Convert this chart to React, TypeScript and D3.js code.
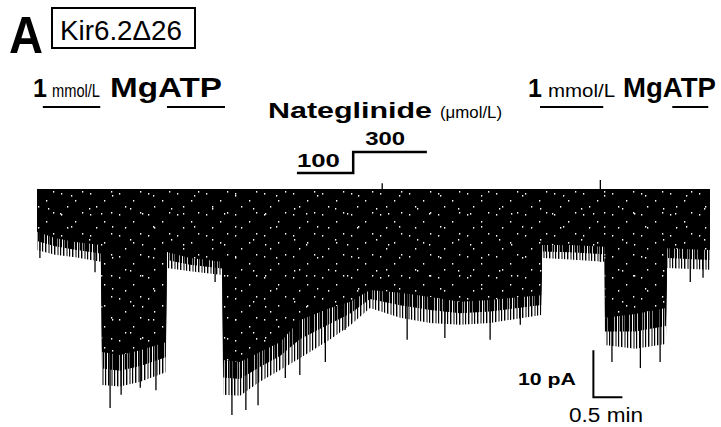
import React from "react";
import * as d3 from "d3";

// trace envelope: time (min), bottom of the solid band (pA)
const traceTime = [
  0, 0.31, 0.66, 1.1,
  1.12, 1.43, 1.78, 2.22,
  2.24, 2.64, 3.19,
  3.21, 3.5, 3.84, 4.19, 4.53, 5.05, 5.4, 5.74, 6.26, 6.78, 7.29, 7.81, 8.69,
  8.71, 9.19, 9.78,
  9.79, 10.31, 10.84,
  10.86, 11.6,
];
const denseBottom = [
  -9.1, -10.4, -11.3, -11.9,
  -34.7, -35.3, -34.3, -32.6,
  -13.4, -14.7, -15.5,
  -36.4, -36.8, -34.7, -32.6, -27.9, -25.3, -24.0, -21.5, -22.1, -23.0, -24.0, -23.6, -22.6,
  -11.9, -11.9, -12.3,
  -27.4, -26.6, -25.3,
  -12.6, -13.0,
];
// how far the bulk of the openings reach (pA)
const fringeBottom = [
  -13.0, -14.0, -14.5, -15.5,
  -41.7, -42.0, -41.0, -39.0,
  -16.8, -17.5, -18.3,
  -43.8, -44.0, -41.0, -38.5, -36.0, -32.0, -29.0, -25.3, -27.4, -28.5, -28.9, -28.5, -26.8,
  -14.7, -15.0, -15.5,
  -33.2, -34.0, -33.0,
  -16.8, -17.2,
];

// the deepest single openings: [time, pA]
const spikeTips: [number, number][] = [
  [0.05, -14.7], [1.0, -17.7], [1.26, -46.6], [1.45, -43.8], [1.78, -42.3],
  [2.05, -42.8], [3.07, -19.8], [3.36, -48.1], [3.6, -47.0], [3.81, -46.0],
  [4.28, -40.2], [4.53, -39.6], [4.97, -36.8], [5.31, -30.0], [6.38, -32.1],
  [7.03, -31.7], [7.81, -32.1], [8.33, -28.9], [8.67, -21.9], [9.71, -15.5],
  [9.91, -36.8], [10.4, -38.1], [10.74, -36.8], [11.26, -19.8], [11.48, -18.9],
];

const upSpikes: [number, number][] = [[5.95, 1.2], [9.71, 1.9]];

// application periods (min)
const atpPeriods: [number, number][] = [[0.1, 1.09], [2.24, 3.24], [8.67, 9.76], [10.95, 11.57]];
const nateSteps = [
  { conc: "100", start: 4.48, end: 5.45 },
  { conc: "300", start: 5.45, end: 6.72 },
];

// scale bar: 10 pA, 0.5 min
const scaleBar = { t: 9.59, pA: -44.3, dPA: 10, dT: 0.5 };

export default function App() {
  const W = 721, H = 427;
  const x = d3.scaleLinear().domain([0, 11.6]).range([37, 710]);
  const y = d3.scaleLinear().domain([0, -10]).range([189, 236]);

  const area = d3
    .area<number>()
    .x((_, i) => x(traceTime[i]))
    .y0(y(0))
    .y1((d) => y(d));

  const midFringe = denseBottom.map((d, i) => (d + fringeBottom[i]) / 2);

  const font = "'Liberation Sans', Arial, sans-serif";
  const T = (p: any) => (
    <text fontFamily={font} lengthAdjust="spacingAndGlyphs" {...p} />
  );

  return (
    <svg width={W} height={H} style={{ position: "absolute", left: 0, top: 0, background: "#fff" }}>
      <defs>
        <pattern id="fringeOuter" width="9" height="10" patternUnits="userSpaceOnUse">
          <rect x="0" y="0" width="1.4" height="10" fill="#000" />
          <rect x="3.5" y="0" width="1" height="10" fill="#000" />
          <rect x="6" y="0" width="1.2" height="10" fill="#000" />
        </pattern>
        <pattern id="fringeInner" width="5" height="10" patternUnits="userSpaceOnUse">
          <rect x="0" y="0" width="2" height="10" fill="#000" />
          <rect x="3" y="0" width="1.3" height="10" fill="#000" />
        </pattern>
        <pattern id="speckA" width="29" height="21" patternUnits="userSpaceOnUse">
          <rect x="3" y="4" width="1.3" height="1.6" fill="#fff" />
          <rect x="17" y="11" width="1.3" height="1.6" fill="#fff" />
          <rect x="9" y="17" width="1.3" height="1.6" fill="#fff" />
          <rect x="24" y="2" width="1.3" height="1.6" fill="#fff" />
        </pattern>
        <pattern id="speckB" width="41" height="31" patternUnits="userSpaceOnUse">
          <rect x="7" y="22" width="1.3" height="1.6" fill="#fff" />
          <rect x="30" y="9" width="1.3" height="1.6" fill="#fff" />
          <rect x="19" y="27" width="1.3" height="1.6" fill="#fff" />
        </pattern>
      </defs>

      {/* panel label */}
      <T x={9} y={53} fontWeight="bold" fontSize={52} textLength={34}>A</T>
      <rect x={52} y={8} width={143} height={40} fill="none" stroke="#000" strokeWidth={2} />
      <T x={60} y={40} fontSize={28} textLength={122}>Kir6.2Δ26</T>

      {/* MgATP labels */}
      <T x={33} y={97} fontWeight="bold" fontSize={25}>1</T>
      <T x={52} y={97} fontSize={18} textLength={48}>mmol/L</T>
      <T x={110} y={97} fontWeight="bold" fontSize={28} textLength={112}>MgATP</T>
      <T x={528} y={97} fontWeight="bold" fontSize={25}>1</T>
      <T x={548} y={97} fontSize={18} textLength={67}>mmol/L</T>
      <T x={623} y={97} fontWeight="bold" fontSize={28} textLength={93}>MgATP</T>
      {atpPeriods.map(([a, b], i) => (
        <line key={i} x1={x(a)} x2={x(b)} y1={107} y2={107} stroke="#000" strokeWidth={2} />
      ))}

      {/* nateglinide */}
      <T x={268} y={118} fontWeight="bold" fontSize={22} textLength={164}>Nateglinide</T>
      <T x={440} y={118} fontSize={17} textLength={62}>(μmol/L)</T>
      <path
        d={`M${x(nateSteps[0].start)},173H${x(nateSteps[0].end)}V152H${x(nateSteps[1].end)}`}
        fill="none"
        stroke="#000"
        strokeWidth={2.5}
      />
      <T x={x(nateSteps[0].start)} y={167} fontWeight="bold" fontSize={18} textLength={43}>{nateSteps[0].conc}</T>
      <T x={x(nateSteps[1].start) + 12} y={145} fontWeight="bold" fontSize={18} textLength={40}>{nateSteps[1].conc}</T>

      {/* current trace */}
      <path d={area(fringeBottom) ?? ""} fill="url(#fringeOuter)" />
      <path d={area(midFringe) ?? ""} fill="url(#fringeInner)" />
      {spikeTips.map(([t, v], i) => (
        <line key={i} x1={x(t)} x2={x(t)} y1={y(0)} y2={y(v)} stroke="#000" strokeWidth={1.3} />
      ))}
      {upSpikes.map(([t, v], i) => (
        <line key={i} x1={x(t)} x2={x(t)} y1={y(-2)} y2={y(v)} stroke="#000" strokeWidth={1.3} />
      ))}
      <path d={area(denseBottom) ?? ""} fill="#000" />
      <path d={area(denseBottom) ?? ""} fill="url(#speckA)" />
      <path d={area(denseBottom) ?? ""} fill="url(#speckB)" />

      {/* scale bar */}
      <path
        d={`M${x(scaleBar.t)},${y(scaleBar.pA + scaleBar.dPA)}V${y(scaleBar.pA)}H${x(scaleBar.t + scaleBar.dT)}`}
        fill="none"
        stroke="#000"
        strokeWidth={2}
      />
      <T x={576} y={385} textAnchor="end" fontWeight="bold" fontSize={17} textLength={58}>10 pA</T>
      <T x={569} y={422} fontSize={20} textLength={74}>0.5 min</T>
    </svg>
  );
}
